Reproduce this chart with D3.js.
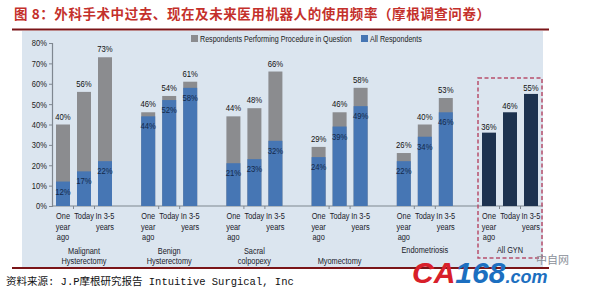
<!DOCTYPE html>
<html>
<head>
<meta charset="utf-8">
<script src="https://cdn.jsdelivr.net/npm/d3@7"></script>
<style>
  body { margin: 0; background: #fff; }
  svg { display: block; }
  text { font-family: "Liberation Sans", Arial, sans-serif; }
</style>
</head>
<body>
<script>
// chart values
var groups = ["Malignant Hysterectomy", "Benign Hysterectomy", "Sacral colpopexy", "Myomectomy", "Endometriosis", "All GYN"];
var groupLines = [["Malignant", "Hysterectomy"], ["Benign", "Hysterectomy"], ["Sacral", "colpopexy"], ["Myomectomy"], ["Endometriosis"], ["All GYN"]];
var periods = ["One year ago", "Today", "In 3-5 years"];
var periodLines = [["One", "year", "ago"], ["Today"], ["In 3-5", "years"]];
var performing = [[40, 56, 73], [46, 54, 61], [44, 48, 66], [29, 46, 58], [26, 40, 53], [36, 46, 55]];
var allResp = [[12, 17, 22], [44, 52, 58], [21, 23, 32], [24, 39, 49], [22, 34, 46], [null, null, null]];
var yTicks = [0, 10, 20, 30, 40, 50, 60, 70, 80];
var legendNames = ["Respondents Performing Procedure in Question", "All Respondents"];

var W = 590, H = 296;
var gray = "#8b8c8f", blue = "#4676b4", navy = "#1d324f", bg = "#dbe5ef";
var SX = 0.84; // narrow the text like the condensed font of the original

var svg = d3.select("body").append("svg").attr("width", W).attr("height", H);

function ntext(parent, x, y, str, anchor, size, fill) {
    return parent.append("text")
        .attr("transform", "translate(" + x + "," + y + ") scale(" + SX + ",1)")
        .attr("text-anchor", anchor || "middle")
        .attr("fill", fill || "#1a1a2a")
        .style("font-size", (size || 8.8) + "px")
        .text(str);
}

// title
svg.append("text")
    .attr("x", 14).attr("y", 19)
    .attr("fill", "#c4302b")
    .attr("textLength", 476).attr("lengthAdjust", "spacing")
    .style("font-family", "'Noto Sans CJK SC', sans-serif")
    .style("font-weight", "bold")
    .style("font-size", "13.5px")
    .text("图 8：外科手术中过去、现在及未来医用机器人的使用频率（摩根调查问卷）");

svg.append("rect").attr("x", 22).attr("y", 31).attr("width", 521).attr("height", 236).attr("fill", bg);
svg.append("line").attr("x1", 12).attr("x2", 549).attr("y1", 29.5).attr("y2", 29.5).attr("stroke", "#7a1518").attr("stroke-width", 2);
svg.append("line").attr("x1", 12).attr("x2", 549).attr("y1", 268).attr("y2", 268).attr("stroke", "#7a1518").attr("stroke-width", 2);

var x0 = d3.scaleBand().domain(groups).range([56, 567.2]);
var x1 = d3.scaleBand().domain(periods).range([0, 56]).paddingInner(1 / 3);
var y = d3.scaleLinear().domain([0, 80]).range([206, 43]);

var g = svg.append("g");

// y axis
var yAxis = g.append("g")
    .attr("transform", "translate(52,0)")
    .call(d3.axisLeft(y).tickValues(yTicks).tickSize(3).tickFormat(function (d) { return d + "%"; }));
yAxis.select(".domain").attr("stroke", "#7f8790").attr("stroke-width", 1.2);
yAxis.selectAll(".tick line").attr("stroke", "#7f8790");
yAxis.selectAll("text")
    .attr("fill", "#222").attr("x", -6)
    .attr("transform", "scale(" + SX + ",1)")
    .style("font-size", "9px")
    .style("font-family", "'Liberation Sans', sans-serif");

// x axis line
g.append("line").attr("x1", 52).attr("x2", 543).attr("y1", y(0)).attr("y2", y(0))
    .attr("stroke", "#7f8790").attr("stroke-width", 1.2);

// dashed box around All GYN
var lastX = x0("All GYN");
svg.append("rect")
    .attr("x", lastX - 4).attr("y", 78)
    .attr("width", 64).attr("height", 180)
    .attr("fill", "none").attr("stroke", "#b84f6c")
    .attr("stroke-width", 1.5).attr("stroke-dasharray", "4,2.5");

// bottom line of each group name (single-line names sit differently in the original)
var nameBase = [264, 264, 264, 264, 253, 253];

groups.forEach(function (grp, gi) {
    var gg = g.append("g").attr("transform", "translate(" + x0(grp) + ",0)");
    var isAll = grp === "All GYN";
    periods.forEach(function (p, pi) {
        var bx = x1(p), bw = x1.bandwidth();
        var tot = performing[gi][pi];
        gg.append("rect").attr("x", bx).attr("width", bw)
            .attr("y", y(tot)).attr("height", y(0) - y(tot))
            .attr("fill", isAll ? navy : gray);
        var a = allResp[gi][pi];
        if (a !== null) {
            gg.append("rect").attr("x", bx).attr("width", bw)
                .attr("y", y(a)).attr("height", y(0) - y(a))
                .attr("fill", blue);
            ntext(gg, bx + bw / 2, y(a) + 13, a + "%", "middle", 9.2, "#13294b");
        }
        ntext(gg, bx + bw / 2, y(tot) - (isAll ? 3 : 5), tot + "%", "middle", 9.2, "#111");
        // category label
        periodLines[pi].forEach(function (ln, li) {
            ntext(gg, bx + bw / 2, 219 + li * 10.5, ln);
        });
        // small ticks between bars
        if (pi > 0) {
            var tx = bx - (x1.step() - bw) / 2;
            gg.append("line").attr("x1", tx).attr("x2", tx).attr("y1", y(0)).attr("y2", y(0) + 3)
                .attr("stroke", "#7f8790");
        }
    });
    var lines = groupLines[gi];
    lines.forEach(function (ln, li) {
        ntext(gg, 28, nameBase[gi] - (lines.length - 1 - li) * 10.5, ln);
    });
});

// legend
var legX = [191, 361];
legendNames.forEach(function (n, i) {
    g.append("rect").attr("x", legX[i]).attr("y", 35).attr("width", 7).attr("height", 7)
        .attr("fill", i === 0 ? gray : blue);
    ntext(g, legX[i] + 9, 41.5, n, "start", 8.5, "#222");
});

// source
svg.append("text").attr("x", 6).attr("y", 285)
    .attr("fill", "#111")
    .style("font-family", "'Liberation Mono', 'Noto Sans CJK SC', monospace")
    .style("font-size", "10.5px")
    .text("资料来源: J.P摩根研究报告 Intuitive Surgical, Inc");

// watermark
var wm = svg.append("text").attr("x", 412).attr("y", 283)
    .style("font-family", "'Liberation Sans', sans-serif")
    .style("font-weight", "bold").style("font-style", "italic");
wm.append("tspan").attr("fill", "#d8202a").style("font-size", "30px").text("CA");
wm.append("tspan").attr("fill", "#1c6fc0").style("font-size", "30px").text("168");
wm.append("tspan").attr("fill", "#1c6fc0").style("font-size", "18px").text(".com");
svg.append("text").attr("x", 536).attr("y", 264)
    .attr("fill", "#8a8f99").style("font-family", "'Noto Sans CJK SC', sans-serif")
    .style("font-size", "11px").text("中自网");
</script>
</body>
</html>
